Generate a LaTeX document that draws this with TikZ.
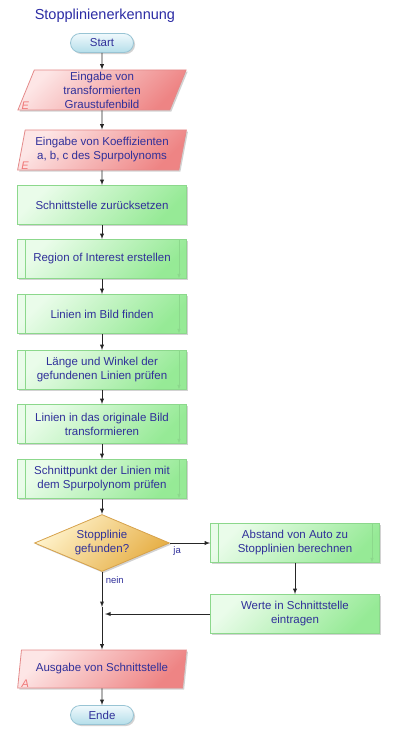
\documentclass[tikz,border=0pt]{standalone}
\usepackage{fontspec}
\setmainfont{Liberation Sans}
\usetikzlibrary{shapes.geometric,shapes.misc,shadows,positioning,arrows}

\definecolor{txtblue}{HTML}{30309A}
\definecolor{grnlight}{HTML}{EAFCEA}
\definecolor{grndark}{HTML}{96EA96}
\definecolor{grnline}{HTML}{8CD88C}
\definecolor{redlight}{HTML}{FDE6E6}
\definecolor{reddark}{HTML}{EE8484}
\definecolor{redline}{HTML}{E48A8A}
\definecolor{goldlight}{HTML}{FFF3CC}
\definecolor{golddark}{HTML}{E6AE44}
\definecolor{goldline}{HTML}{D6A24C}
\definecolor{bluelight}{HTML}{F0F9FC}
\definecolor{bluedark}{HTML}{B4DEEA}
\definecolor{blueline}{HTML}{98C4D4}

\tikzset{
  shade/.style={drop shadow={shadow xshift=1.6pt,shadow yshift=-1.6pt,fill=black!35,opacity=.5}},
  txt/.style={text=txtblue,font=\fontsize{11.5}{14}\selectfont,align=center},
  terminal/.style={rounded rectangle,draw=blueline,line width=.8pt,shade,txt,
    top color=bluelight,bottom color=bluedark,minimum width=63pt,minimum height=19pt,inner sep=0pt},
  io/.style={trapezium,trapezium left angle=76,trapezium right angle=104,trapezium stretches=true,
    draw=redline,line width=.8pt,shade,txt,top color=redlight,bottom color=reddark,shading angle=45,
    minimum width=169pt,minimum height=40pt,inner sep=1pt},
  proc/.style={rectangle,draw=grnline,line width=.8pt,shade,txt,top color=grnlight,bottom color=grndark,
    shading angle=45,minimum width=169pt,minimum height=39pt,inner sep=1pt},
  subproc/.style={proc,path picture={
    \draw[grnline,line width=.6pt]
      ([xshift=7.5pt]path picture bounding box.north west) -- ([xshift=7.5pt]path picture bounding box.south west)
      ([xshift=-7.5pt]path picture bounding box.north east) -- ([xshift=-7.5pt]path picture bounding box.south east);}},
  decision/.style={diamond,aspect=2.4,draw=goldline,line width=.8pt,shade,txt,top color=goldlight,
    bottom color=golddark,shading angle=45,minimum width=135pt,minimum height=57pt,inner sep=0pt},
  tag/.style={text=reddark!90!red,font=\fontsize{11}{11}\selectfont\itshape},
  lbl/.style={text=txtblue,font=\fontsize{9.5}{11}\selectfont}
}

\begin{document}
\begin{tikzpicture}[x=1pt,y=1pt,->,>=latex,line width=.9pt,draw=black!85]
\useasboundingbox (0,0) rectangle (400,-741);

\node[anchor=west,text=txtblue!90!blue,font=\fontsize{14.5}{17}\selectfont] (title) at (31,-16) {Stopplinienerkennung};

\node[terminal] (start) at (102,-43) {Start};
\node[io] (in1) [below of=start,node distance=47pt] {Eingabe von\\transformierten\\Graustufenbild};
\node[io] (in2) [below of=in1,node distance=60pt] {Eingabe von Koeffizienten\\a, b, c des Spurpolynoms};
\node[proc] (reset) [below of=in2,node distance=55pt] {Schnittstelle zurücksetzen};
\node[subproc] (roi) [below of=reset,node distance=54pt] {Region of Interest erstellen};
\node[subproc] (find) [below of=roi,node distance=55pt] {Linien im Bild finden};
\node[subproc] (check) [below of=find,node distance=56pt] {Länge und Winkel der\\gefundenen Linien prüfen};
\node[subproc] (trans) [below of=check,node distance=54pt] {Linien in das originale Bild\\transformieren};
\node[subproc] (cross) [below of=trans,node distance=55pt] {Schnittpunkt der Linien mit\\dem Spurpolynom prüfen};
\node[decision] (dec) [below of=cross,node distance=64pt] {Stopplinie\\gefunden?};
\node[subproc] (dist) [right of=dec,node distance=193pt] {Abstand von Auto zu\\Stopplinien berechnen};
\node[proc] (write) [below of=dist,node distance=71pt] {Werte in Schnittstelle\\eintragen};
\node[io] (out) [below of=dec,node distance=126pt,minimum height=38pt] {Ausgabe von Schnittstelle};
\node[terminal] (stop) [below of=out,node distance=46pt] {Ende};

\node[tag] (e1) at ([shift={(8pt,5pt)}]in1.bottom left corner) {E};
\node[tag] (e2) at ([shift={(8pt,5pt)}]in2.bottom left corner) {E};
\node[tag] (a1) at ([shift={(8pt,5pt)}]out.bottom left corner) {A};

\coordinate (join) at (dec |- write);

\draw (start) -- (in1);
\draw (in1) -- (in2);
\draw (in2) -- (reset);
\draw (reset) -- (roi);
\draw (roi) -- (find);
\draw (find) -- (check);
\draw (check) -- (trans);
\draw (trans) -- (cross);
\draw (cross) -- (dec);
\draw (dec) -- node[lbl,below,pos=.18] (ja) {ja} (dist);
\draw (dist) -- (write);
\draw (dec.south) -- node[lbl,right,pos=.22] (nein) {nein} ([yshift=7pt]join);
\draw ([yshift=7pt]join) -- (out);
\draw (write) -- ([xshift=3pt]join);
\draw (out) -- (stop);
\end{tikzpicture}
\end{document}
